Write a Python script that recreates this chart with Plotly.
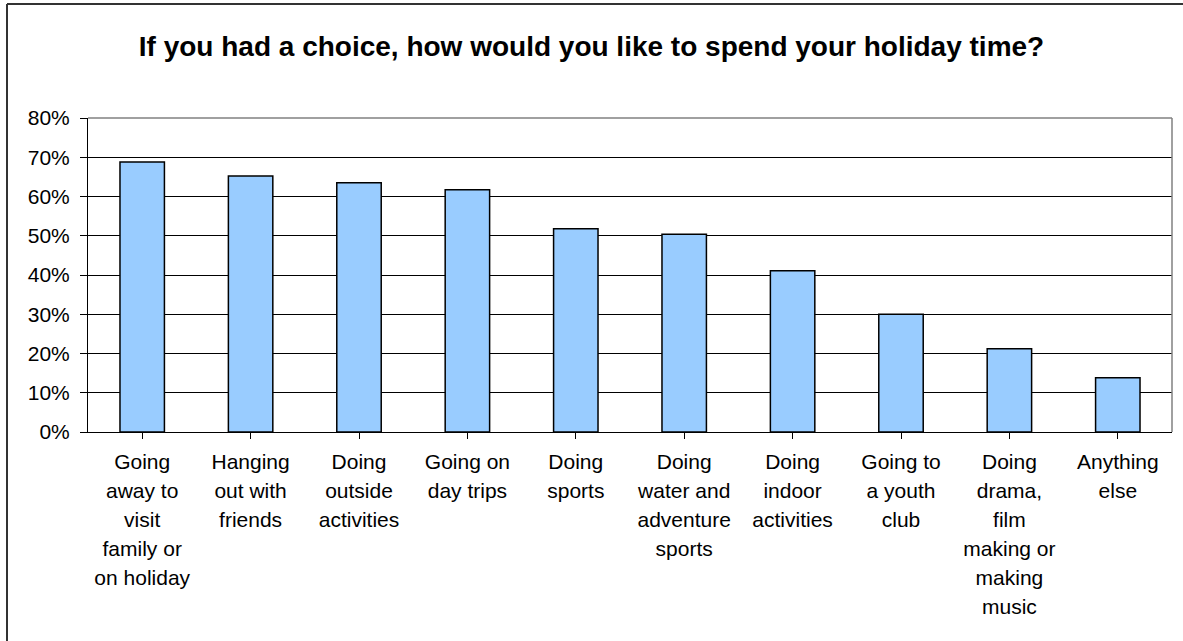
import plotly.graph_objects as go

# Survey responses: share of young people choosing each holiday activity
categories = [
    "Going<br>away to<br>visit<br>family or<br>on holiday",
    "Hanging<br>out with<br>friends",
    "Doing<br>outside<br>activities",
    "Going on<br>day trips",
    "Doing<br>sports",
    "Doing<br>water and<br>adventure<br>sports",
    "Doing<br>indoor<br>activities",
    "Going to<br>a youth<br>club",
    "Doing<br>drama,<br>film<br>making or<br>making<br>music",
    "Anything<br>else",
]
shares = [0.688, 0.652, 0.635, 0.617, 0.518, 0.504, 0.411, 0.300, 0.212, 0.138]
y_ticks = [0.0, 0.1, 0.2, 0.3, 0.4, 0.5, 0.6, 0.7, 0.8]

W, H = 1183, 641
L, R, T, B = 88, 11, 118, 209
GLYPH = 21          # visible size of the category text
LINE_PX = 29        # distance between wrapped lines


def styled(label):
    # wrap each line so glyphs keep their own size while line spacing follows the tick font
    parts = label.split("<br>")
    return "<br>".join(f'<span style="font-size:{GLYPH}px">{p}</span>' for p in parts)


tick_text = [styled(c) for c in categories]

fig = go.Figure(
    go.Bar(
        x=list(range(len(categories))),
        y=shares,
        marker=dict(color="#99CCFF", line=dict(color="#000000", width=1.5)),
        hoverinfo="skip",
    )
)

fig.update_layout(
    width=W,
    height=H,
    margin=dict(l=L, r=R, t=T, b=B),
    paper_bgcolor="white",
    plot_bgcolor="white",
    bargap=0.59,
    showlegend=False,
    font=dict(family="Liberation Sans, Arial, sans-serif", color="#000000", size=21),
    title=dict(
        text="<b>If you had a choice, how would you like to spend your holiday time?</b>",
        x=0.5,
        xref="container",
        xanchor="center",
        y=1 - 46 / H,
        yanchor="middle",
        font=dict(size=28, family="Liberation Sans, Arial, sans-serif"),
    ),
)

fig.update_xaxes(
    tickmode="array",
    tickvals=list(range(len(categories))),
    ticktext=tick_text,
    tickangle=0,
    tickfont=dict(size=LINE_PX / 1.3),
    range=[-0.5, len(categories) - 0.5],
    tickson="boundaries",
    ticks="outside",
    ticklen=6,
    tickcolor="#000000",
    showline=True,
    linecolor="#000000",
    linewidth=1,
    showgrid=False,
    zeroline=False,
    ticklabelstandoff=3,
)

fig.update_yaxes(
    range=[0, 0.8],
    tickmode="array",
    tickvals=y_ticks,
    ticktext=[f"{round(v * 100)}%" for v in y_ticks],
    ticks="outside",
    ticklen=7,
    tickcolor="#000000",
    tickfont=dict(size=21),
    showline=True,
    linecolor="#000000",
    linewidth=1,
    showgrid=True,
    gridcolor="#000000",
    gridwidth=1,
    zeroline=False,
    ticklabelstandoff=6,
)

# plot-area frame on the top and right sides
fig.add_shape(type="line", xref="paper", yref="paper", x0=0, x1=1, y0=1, y1=1,
              line=dict(color="#808080", width=1.5), layer="above")
fig.add_shape(type="line", xref="paper", yref="paper", x0=1, x1=1, y0=0, y1=1,
              line=dict(color="#808080", width=1.5), layer="above")

# outer chart border (left and top edges)
pw, ph = W - L - R, H - T - B
px = lambda v: (v - L) / pw
py = lambda v: (H - B - v) / ph
fig.add_shape(type="line", xref="paper", yref="paper",
              x0=px(7), x1=px(7), y0=py(4), y1=py(H + 2),
              line=dict(color="#333333", width=2))
fig.add_shape(type="line", xref="paper", yref="paper",
              x0=px(7), x1=px(W + 2), y0=py(4), y1=py(4),
              line=dict(color="#333333", width=2))

fig.write_html("out.html")
